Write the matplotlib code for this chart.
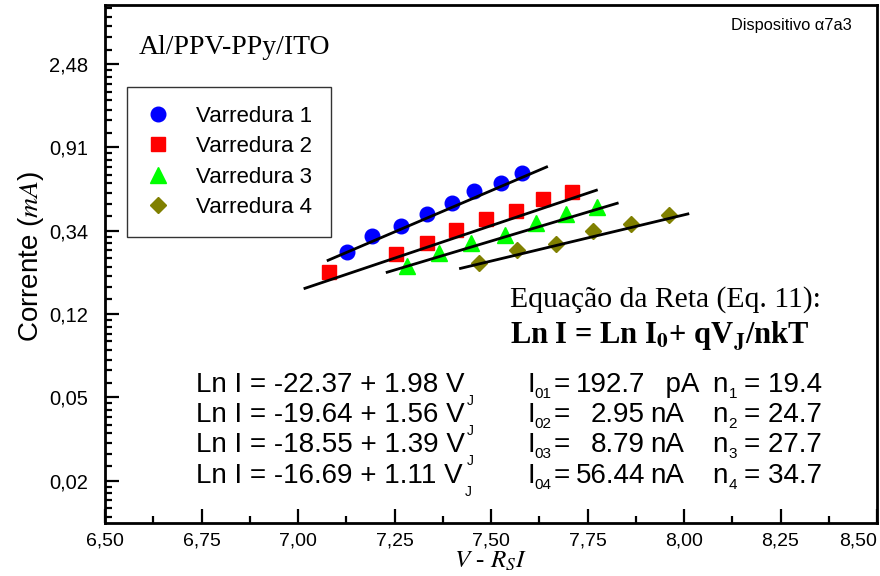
import numpy as np
import matplotlib.pyplot as plt
from matplotlib.ticker import FixedLocator, FuncFormatter, MultipleLocator

plt.rcParams['font.family'] = ['Liberation Sans', 'DejaVu Sans']
plt.rcParams['mathtext.fontset'] = 'custom'
plt.rcParams['mathtext.rm'] = 'Liberation Sans'
plt.rcParams['mathtext.it'] = 'Liberation Sans:italic'
plt.rcParams['mathtext.bf'] = 'Liberation Sans:bold'

# V_J (V) e Ln I (I em A) de cada varredura
vj_1 = [7.126, 7.192, 7.267, 7.333, 7.400, 7.456, 7.526, 7.581]
lni_1 = [-8.260, -8.061, -7.945, -7.801, -7.672, -7.521, -7.432, -7.312]
vj_2 = [7.080, 7.253, 7.333, 7.409, 7.486, 7.565, 7.635, 7.709]
lni_2 = [-8.501, -8.281, -8.152, -7.993, -7.864, -7.761, -7.621, -7.533]
vj_3 = [7.283, 7.365, 7.449, 7.536, 7.616, 7.695, 7.775]
lni_3 = [-8.421, -8.272, -8.145, -8.053, -7.912, -7.804, -7.713]
vj_4 = [7.469, 7.568, 7.668, 7.764, 7.862, 7.961]
lni_4 = [-8.385, -8.233, -8.164, -8.005, -7.921, -7.813]

# ajustes: Ln I = a + b V_J
fit_a = [-22.37, -19.64, -18.55, -16.69]
fit_b = [1.98, 1.56, 1.39, 1.11]
fit_v0 = [7.078, 7.018, 7.231, 7.421]
fit_v1 = [7.644, 7.773, 7.827, 8.010]
i0_val = ['192.7', '2.95', '8.79', '56.44']
i0_unit = ['  pA', 'nA', 'nA', 'nA']
n_val = [19.4, 24.7, 27.7, 34.7]

labels = ['Varredura 1', 'Varredura 2', 'Varredura 3', 'Varredura 4']
colors = ['#0000ff', '#ff0000', '#00ff00', '#808000']
markers = ['o', 's', '^', 'D']
msizes = [10.5, 9.5, 11, 8]

xticks = [6.5, 6.75, 7.0, 7.25, 7.5, 7.75, 8.0, 8.25, 8.5]

W, H = 880, 576


def fpos(x, y):
    return x / W, 1 - y / H


def comma(v):
    return f"{v:.2f}".replace('.', ',')


fig = plt.figure(figsize=(W / 100, H / 100), dpi=100)
ax = fig.add_axes([105 / W, 1 - 523 / H, (877 - 105) / W, (523 - 5) / H])
renderer = fig.canvas.get_renderer()


def put_runs(x, y, runs, fs=20):
    # runs: (texto, tamanho, deslocamento vertical em px, espaço antes em px)
    for txt, size, dy, gap in runs:
        x += gap
        t = fig.text(*fpos(x, y + dy), txt, fontsize=size or fs)
        x += t.get_window_extent(renderer).width
    return x


series = [(vj_1, lni_1), (vj_2, lni_2), (vj_3, lni_3), (vj_4, lni_4)]
for (vj, lni), lab, c, m, ms in zip(series, labels, colors, markers, msizes):
    ax.plot(vj, np.exp(lni) * 1e3, ls='none', marker=m, ms=ms, color=c,
            mec=c, label=lab, zorder=3)

for a, b, v0, v1 in zip(fit_a, fit_b, fit_v0, fit_v1):
    v = np.array([v0, v1])
    ax.plot(v, np.exp(a + b * v) * 1e3, color='black', lw=2, zorder=4)

ax.set_yscale('log', base=np.e)
ax.set_xlim(6.5, 8.5)
ax.set_ylim(np.exp(-11.51) * 1e3, np.exp(-5.29) * 1e3)

ax.set_xticks(xticks)
ax.set_xticklabels([comma(v) for v in xticks])
ax.xaxis.set_minor_locator(MultipleLocator(0.125))
ax.get_xticklabels()[-1].set_horizontalalignment('right')

major_y = [np.exp(k) * 1e3 for k in range(-11, -5)]
minor_y = [np.exp(k) * (1 + j * (np.e - 1) / 9) * 1e3
           for k in range(-12, -5) for j in range(1, 9)]
ax.yaxis.set_major_locator(FixedLocator(major_y))
ax.yaxis.set_minor_locator(FixedLocator(minor_y))
ax.yaxis.set_major_formatter(FuncFormatter(lambda v, p: comma(v)))
ax.yaxis.set_minor_formatter(FuncFormatter(lambda v, p: ''))

for s in ax.spines.values():
    s.set_linewidth(2)
ax.tick_params(which='both', direction='in', top=False, right=False,
               labelsize=14.5, width=1.6)
ax.tick_params(axis='x', labelsize=14, pad=7)
ax.tick_params(axis='y', pad=12)
ax.tick_params(which='major', length=10)
ax.tick_params(which='minor', length=5)

ax.set_ylabel('Corrente ($mA$)', fontsize=20, math_fontfamily='stix')
ax.yaxis.set_label_coords((46 - 105) / 772, (523 - 256) / 518)
ax.set_xlabel('$V$ - $R_SI$', fontsize=18, family='Liberation Serif',
              math_fontfamily='stix')
ax.xaxis.set_label_coords((490 - 105) / 772, (523 - 550) / 518)

leg = ax.legend(loc='upper left', bbox_to_anchor=fpos(127, 87),
                bbox_transform=fig.transFigure, fontsize=16, frameon=True,
                fancybox=False, edgecolor='black', borderpad=0.85,
                labelspacing=0.42, handletextpad=1.14, handlelength=1.1,
                borderaxespad=0)
leg.get_frame().set_linewidth(1.0)

fig.text(*fpos(139, 54), 'Al/PPV-PPy/ITO', fontsize=20, family='Liberation Serif')
fig.text(*fpos(852, 30), 'Dispositivo \u03b17a3', fontsize=11.8, ha='right')
fig.text(*fpos(510, 307), 'Equação da Reta (Eq. 11):', fontsize=21.3,
         family='Liberation Serif')
fig.text(*fpos(510, 344), r'Ln I = Ln I$_\mathbf{0}$+ qV$_\mathbf{J}$/nkT',
         fontsize=22, family='Liberation Serif', weight='bold',
         math_fontfamily='stix')

row_y = [392, 422, 452, 483]
for k, (a, b, iv, iu, n, y) in enumerate(zip(fit_a, fit_b, i0_val, i0_unit, n_val, row_y)):
    put_runs(196, y, [(f"Ln I = {a:.2f} + {b:.2f} V", None, 0, 0),
                      ("J", 10, 13, 2)])
    put_runs(527, y, [("I", None, 0, 0), (f"0{k + 1}", 11, 6, 0),
                      ("=", None, 0, 2)])
    fig.text(*fpos(645, y), iv, fontsize=20, ha='right')
    fig.text(*fpos(650, y), iu, fontsize=20)
    put_runs(712, y, [("n", None, 0, 0), (f"{k + 1}", 11, 6, 1),
                      (f"= {n}", None, 0, 7)])

fig.savefig('out.png', dpi=100)
